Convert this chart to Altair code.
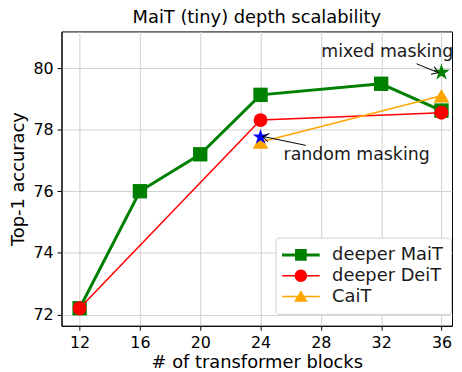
import altair as alt
import pandas as pd

# ---------------- data ----------------
series_names = ["deeper MaiT", "deeper DeiT", "CaiT"]

mait_blocks = [12, 16, 20, 24, 32, 36]
mait_acc = [72.2, 76.0, 77.2, 79.13, 79.49, 78.62]

deit_blocks = [12, 24, 36]
deit_acc = [72.2, 78.31, 78.55]

cait_blocks = [24, 36]
cait_acc = [77.6, 79.1]

star_labels = ["mixed masking", "random masking"]
star_blocks = [36, 24]
star_acc = [79.86, 77.76]

text_blocks = [28.03, 25.53]
text_acc = [80.35, 77.0]

arrow_start_blocks = [34.35, 27.0]
arrow_start_acc = [80.14, 77.49]
arrow_end_blocks = [35.78, 24.15]
arrow_end_acc = [79.85, 77.78]
arrow_angles = [112.5, 281.8]

x_ticks = [12, 16, 20, 24, 28, 32, 36]
y_ticks = [72, 74, 76, 78, 80]

# ---------------- styles ----------------
FONT = "DejaVu Sans"
colors = {"deeper MaiT": "#008000", "deeper DeiT": "#ff0000", "CaiT": "#ffa500"}
widths = {"deeper MaiT": 3, "deeper DeiT": 1.5, "CaiT": 1.5}
shapes = {"deeper MaiT": "square", "deeper DeiT": "circle", "CaiT": "triangle-up"}
sizes = {"deeper MaiT": 210, "deeper DeiT": 196, "CaiT": 250}
star_colors = ["#008000", "#0000ff"]
star_sizes = [320, 270]

STAR = ("M0,-1L0.2245,-0.309L0.951,-0.309L0.363,0.118L0.588,0.809L0,0.382"
        "L-0.588,0.809L-0.363,0.118L-0.951,-0.309L-0.2245,-0.309Z")

legend_paths = [
    "M-2,-0.16H2V0.16H-2Z M-0.62,-0.62H0.62V0.62H-0.62Z",
    "M-2,-0.08H2V0.08H-2Z M0.66,0A0.66,0.66 0 1,1 -0.66,0A0.66,0.66 0 1,1 0.66,0Z",
    "M-2,-0.08H2V0.08H-2Z M0,-0.68L0.72,0.56L-0.72,0.56Z",
]
arrow_head = "M-0.6,0.85L0,0L0.6,0.85"

# ---------------- tables ----------------
df = pd.concat([
    pd.DataFrame({"blocks": mait_blocks, "acc": mait_acc, "series": "deeper MaiT"}),
    pd.DataFrame({"blocks": deit_blocks, "acc": deit_acc, "series": "deeper DeiT"}),
    pd.DataFrame({"blocks": cait_blocks, "acc": cait_acc, "series": "CaiT"}),
], ignore_index=True)

xs = alt.Scale(domain=[10.8, 36.7], nice=False, zero=False)
ys = alt.Scale(domain=[71.63, 81.19], nice=False, zero=False)

x_axis = alt.Axis(values=x_ticks, title="# of transformer blocks", format="d")
y_axis = alt.Axis(values=y_ticks, title="Top-1 accuracy", format="d")


def X(field):
    return alt.X(field, type="quantitative", scale=xs, axis=x_axis)


def Y(field):
    return alt.Y(field, type="quantitative", scale=ys, axis=y_axis)


layers = []
for s in series_names:
    sub = df[df["series"] == s]
    base = alt.Chart(sub)
    layers.append(base.mark_line(color=colors[s], strokeWidth=widths[s]).encode(
        x=X("blocks"), y=Y("acc")))
    layers.append(base.mark_point(shape=shapes[s], filled=True, opacity=1,
                                  color=colors[s], size=sizes[s]).encode(
        x=X("blocks"), y=Y("acc")))

for i in range(len(star_labels)):
    st = pd.DataFrame({"blocks": [star_blocks[i]], "acc": [star_acc[i]]})
    layers.append(alt.Chart(st).mark_point(shape=STAR, filled=True, opacity=1,
                                           color=star_colors[i], size=star_sizes[i]).encode(
        x=X("blocks"), y=Y("acc")))

for i in range(len(star_labels)):
    t = pd.DataFrame({"label": [star_labels[i]], "tx": [text_blocks[i]], "ty": [text_acc[i]]})
    layers.append(alt.Chart(t).mark_text(align="left", baseline="alphabetic", font=FONT,
                                         fontSize=17.5, color="#1a1a1a").encode(
        x=X("tx"), y=Y("ty"), text="label:N"))

for i in range(len(star_labels)):
    ar = pd.DataFrame({"ax0": [arrow_start_blocks[i]], "ay0": [arrow_start_acc[i]],
                       "ax1": [arrow_end_blocks[i]], "ay1": [arrow_end_acc[i]]})
    layers.append(alt.Chart(ar).mark_rule(color="black", strokeWidth=1).encode(
        x=X("ax0"), y=Y("ay0"), x2="ax1", y2="ay1"))
    layers.append(alt.Chart(ar).mark_point(shape=arrow_head, filled=False, color="black",
                                           strokeWidth=1, size=200, opacity=1,
                                           angle=arrow_angles[i]).encode(
        x=X("ax1"), y=Y("ay1")))

legend_layer = alt.Chart(df).mark_point(filled=True, opacity=0).encode(
    x=X("blocks"), y=Y("acc"),
    color=alt.Color("series:N", scale=alt.Scale(domain=series_names,
                                                range=[colors[s] for s in series_names]),
                    sort=series_names,
                    legend=alt.Legend(title=None, orient="none", legendX=216, legendY=208)),
    shape=alt.Shape("series:N", scale=alt.Scale(domain=series_names, range=legend_paths),
                    sort=series_names,
                    legend=alt.Legend(title=None, orient="none", legendX=216, legendY=208)),
)
layers.append(legend_layer)

chart = alt.layer(*layers).properties(
    width=394, height=297,
    title=alt.TitleParams("MaiT (tiny) depth scalability", font=FONT, fontSize=18,
                          fontWeight="normal", color="black", offset=5),
    autosize=alt.AutoSizeParams(type="none"),
    padding={"left": 54, "top": 22, "right": 2, "bottom": 46},
).configure_view(
    stroke="black", strokeWidth=1
).configure_axis(
    domainColor="black", tickColor="black", tickSize=4.5, labelPadding=4,
    gridColor="#d0d0d0", gridWidth=1,
    labelFont=FONT, labelFontSize=16, labelColor="black",
    titleFont=FONT, titleFontSize=18, titleColor="black", titleFontWeight="normal",
).configure_axisX(titlePadding=4).configure_axisY(titlePadding=6).configure_legend(
    padding=8, strokeColor="#d0d0d0", fillColor="white", cornerRadius=3,
    symbolSize=361, symbolStrokeWidth=0, symbolOffset=8, symbolOpacity=1,
    labelOffset=22, labelFont=FONT, labelFontSize=18, labelColor="#1a1a1a",
    rowPadding=2,
)

chart.save("out.html", embed_options={"renderer": "svg", "actions": False})
